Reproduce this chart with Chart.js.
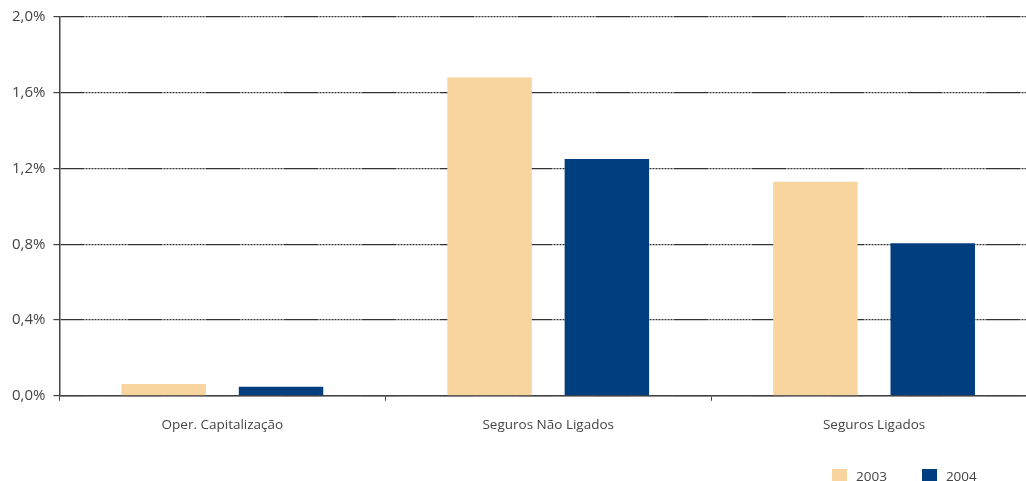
<!DOCTYPE html>
<html>
<head>
<meta charset="utf-8">
<script src="https://cdn.jsdelivr.net/npm/chart.js@4"></script>
<style>
  body { margin: 0; overflow: hidden; background: #fff; font-family: "Open Sans", sans-serif; }
  #wrap { position: relative; width: 1037px; height: 481px; }
  #legend { position: absolute; top: 467px; left: 832px; font-size: 13.5px; color: #444; }
  #legend span.box { display: inline-block; width: 15px; height: 14px; vertical-align: -2px; margin-right: 9px; }
  #legend span.lbl { margin-right: 35px; }
</style>
</head>
<body>
<div id="wrap">
  <canvas id="chart" width="1037" height="481"></canvas>
  <div id="legend"></div>
</div>
<script>
'use strict';

let categories = ['Oper. Capitalização', 'Seguros Não Ligados', 'Seguros Ligados'];
let years = ['2003', '2004'];
let values2003 = [0.062, 1.68, 1.13];
let values2004 = [0.048, 1.25, 0.805];
let yTicks = [0, 0.4, 0.8, 1.2, 1.6, 2.0];
let colors = ['#f8d49e', '#003e80'];

// solid piece then a dotted piece, repeated along each gridline
let gridDash = [33];
for (let i = 0; i < 15; i++) {
    gridDash.push(1, 2);
}
gridDash.push(0);

let legendDiv = document.getElementById('legend');
for (let i = 0; i < years.length; i++) {
    let box = document.createElement('span');
    box.className = 'box';
    box.style.background = colors[i];
    legendDiv.appendChild(box);
    let lbl = document.createElement('span');
    lbl.className = 'lbl';
    lbl.textContent = years[i];
    legendDiv.appendChild(lbl);
}

let ctx = document.getElementById('chart').getContext('2d');
let chart = new Chart(ctx, {
    type: 'bar',
    data: {
        labels: categories,
        datasets: [{
            label: years[0],
            data: values2003,
            backgroundColor: colors[0],
            barPercentage: 0.72,
            categoryPercentage: 0.72
        }, {
            label: years[1],
            data: values2004,
            backgroundColor: colors[1],
            barPercentage: 0.72,
            categoryPercentage: 0.72
        }]
    },
    options: {
        responsive: false,
        animation: false,
        layout: {
            padding: { top: 17, left: 4, right: 0, bottom: 32 }
        },
        plugins: {
            legend: { display: false },
            tooltip: { enabled: false }
        },
        scales: {
            x: {
                grid: {
                    drawOnChartArea: false,
                    offset: true,
                    tickLength: 5,
                    tickColor: '#444',
                    color: '#444'
                },
                border: { color: '#444', width: 1.5 },
                ticks: {
                    color: '#444',
                    padding: 16,
                    font: { family: 'Open Sans', size: 13.5 }
                }
            },
            y: {
                min: 0,
                max: 2.0,
                afterBuildTicks: function (scale) {
                    scale.ticks = yTicks.map(function (v) { return { value: v }; });
                },
                grid: {
                    color: '#333',
                    lineWidth: 1.2,
                    tickLength: 6,
                    tickColor: '#444'
                },
                border: { color: '#444', width: 1.5, dash: gridDash, dashOffset: 9 },
                ticks: {
                    color: '#444',
                    padding: 8,
                    font: { family: 'Open Sans', size: 15 },
                    callback: function (v) {
                        return Number(v).toFixed(1).replace('.', ',') + '%';
                    }
                }
            }
        }
    }
});
</script>
</body>
</html>
